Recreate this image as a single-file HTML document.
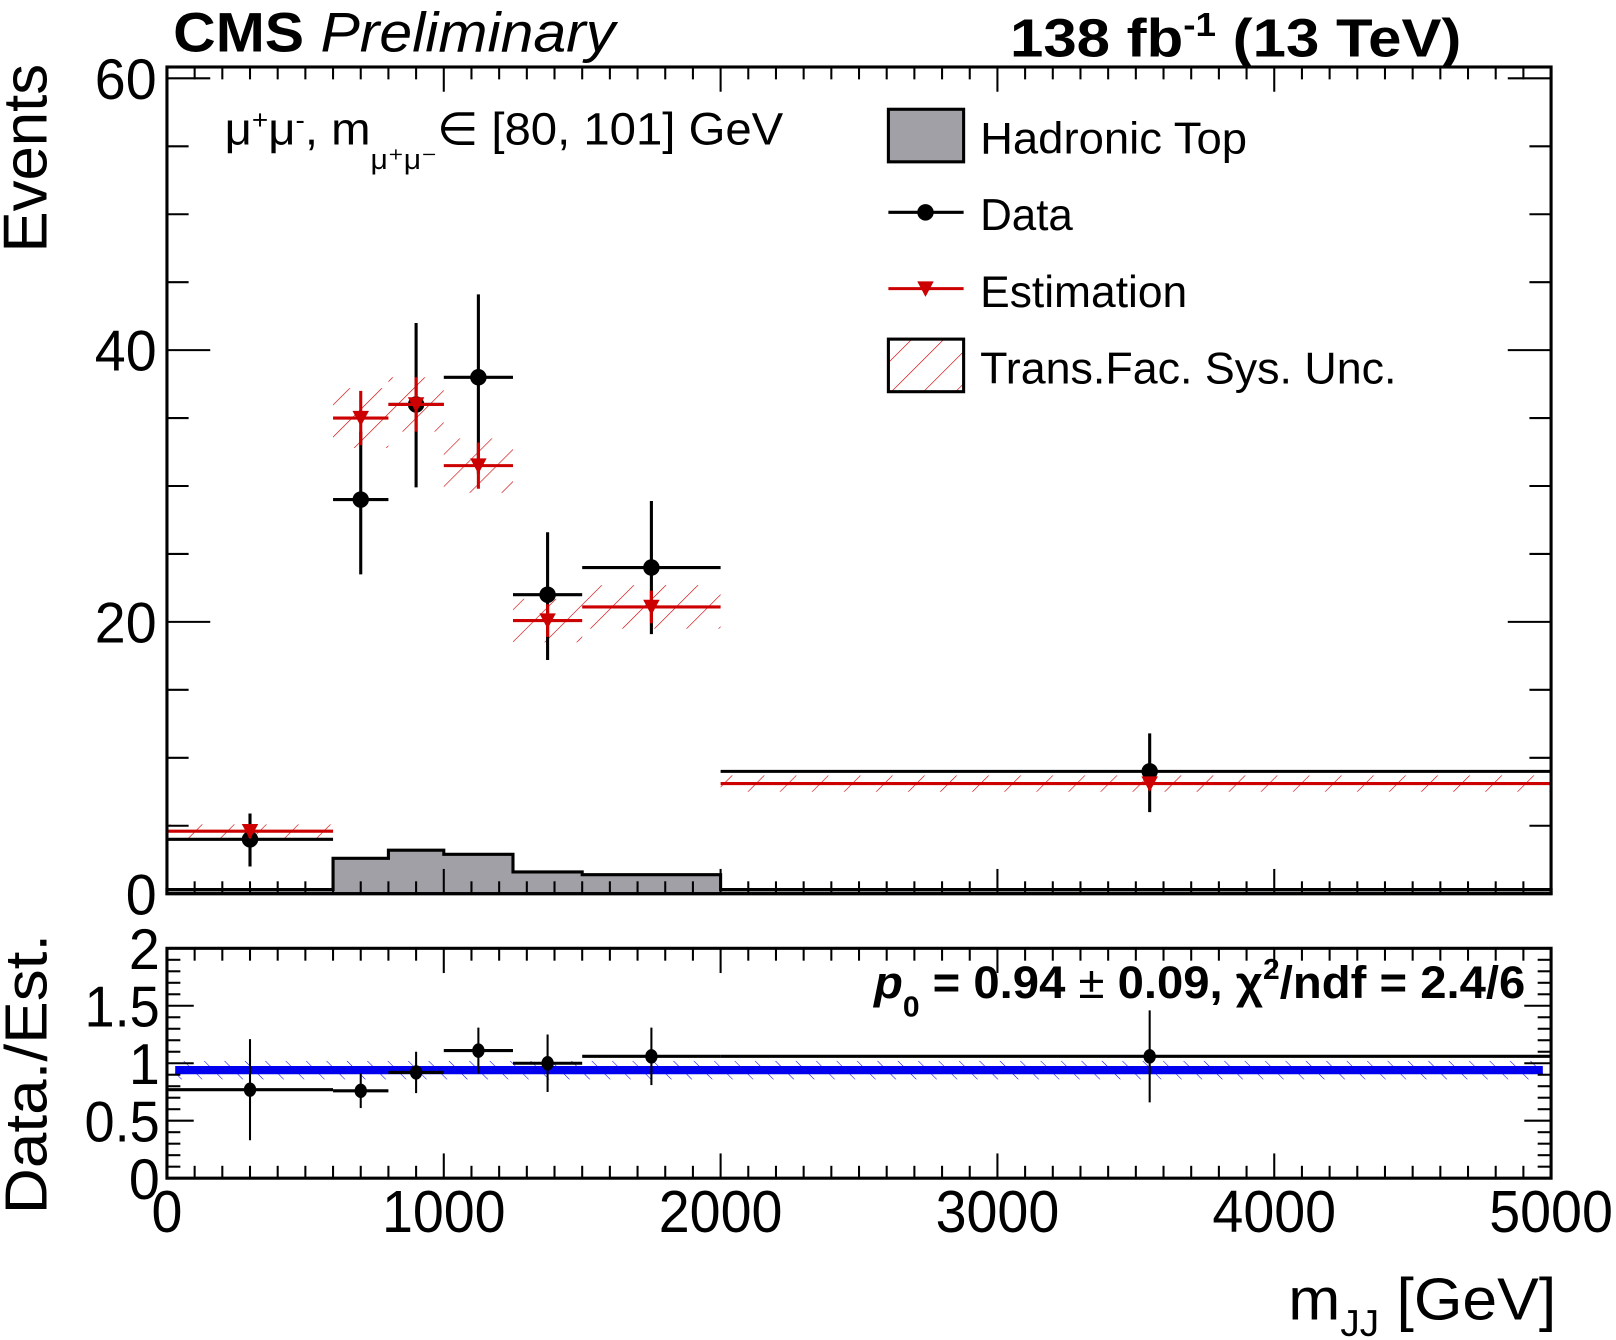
<!DOCTYPE html>
<html><head><meta charset="utf-8"><style>
html,body{margin:0;padding:0;background:#fff;}
svg{display:block;font-family:"Liberation Sans",sans-serif;}
</style></head><body>
<svg id="chart" width="1616" height="1340" viewBox="0 0 1568 1300" preserveAspectRatio="none" xmlns="http://www.w3.org/2000/svg">
<defs>
<pattern id="redHatch" patternUnits="userSpaceOnUse" width="22" height="22" patternTransform="rotate(45)">
<line x1="0" y1="0" x2="0" y2="22" stroke="#cc0000" stroke-width="1.2"/></pattern>
<pattern id="blueHatch" patternUnits="userSpaceOnUse" width="14" height="14" patternTransform="rotate(-45)">
<line x1="0" y1="0" x2="0" y2="14" stroke="#0000ee" stroke-width="1"/></pattern>
</defs>
<g id="marks"></g>
<g id="axes"></g>
<text x="168" y="50" font-size="54" font-weight="bold" textLength="429" lengthAdjust="spacingAndGlyphs">CMS <tspan font-weight="normal" font-style="italic">Preliminary</tspan></text>
<text x="980" y="55" font-size="52" font-weight="bold" textLength="438" lengthAdjust="spacingAndGlyphs">138 fb<tspan dy="-20" font-size="32">-1</tspan><tspan dy="20"> (13 TeV)</tspan></text>
<text transform="translate(45,245) rotate(-90)" font-size="60" textLength="183" lengthAdjust="spacingAndGlyphs">Events</text>
<text transform="translate(45,1178) rotate(-90)" font-size="58" textLength="272" lengthAdjust="spacingAndGlyphs">Data./Est.</text>
<text x="1250" y="1280" font-size="58" textLength="260" lengthAdjust="spacingAndGlyphs">m<tspan dy="16" font-size="36">JJ</tspan><tspan dy="-16"> [GeV]</tspan></text>
<text x="218" y="140" font-size="44" textLength="542" lengthAdjust="spacingAndGlyphs">μ<tspan dy="-15" font-size="26">+</tspan><tspan dy="15">μ</tspan><tspan dy="-15" font-size="26">-</tspan><tspan dy="15">, m</tspan><tspan dy="24" font-size="28">μ⁺μ⁻</tspan><tspan dy="-24">∈ [80, 101] GeV</tspan></text>
<text x="848" y="968" font-size="44" font-weight="bold" textLength="632" lengthAdjust="spacingAndGlyphs"><tspan font-style="italic">p</tspan><tspan dy="18" font-size="28">0</tspan><tspan dy="-18"> = 0.94 </tspan><tspan font-weight="normal">±</tspan> 0.09,  χ<tspan dy="-18" font-size="28">2</tspan><tspan dy="18">/ndf = 2.4/6</tspan></text>
<g>
<rect x="862" y="106" width="73" height="51" fill="#a0a0a6" stroke="#000" stroke-width="3"/>
<text x="951" y="149" font-size="43" textLength="259" lengthAdjust="spacingAndGlyphs">Hadronic Top</text>
<line x1="862" y1="206" x2="935" y2="206" stroke="#000" stroke-width="3"/>
<circle cx="898" cy="206" r="8" fill="#000"/>
<text x="951" y="223" font-size="43" textLength="90" lengthAdjust="spacingAndGlyphs">Data</text>
<line x1="862" y1="280" x2="935" y2="280" stroke="#cc0000" stroke-width="3"/>
<path d="M890 273 L906 273 L898 288 Z" fill="#cc0000"/>
<text x="951" y="298" font-size="43" textLength="201" lengthAdjust="spacingAndGlyphs">Estimation</text>
<rect x="862" y="329" width="73" height="51" fill="url(#redHatch)" stroke="#000" stroke-width="3"/>
<text x="951" y="372" font-size="43" textLength="404" lengthAdjust="spacingAndGlyphs">Trans.Fac. Sys. Unc.</text>
</g>
</svg>
<script>
const binEdges=[0,600,800,1000,1250,1500,2000,5000];
const dataX=[300,700,900,1125,1375,1750,3550];
const dataY=[4,29,36,38,22,24,9];
const dataErrUp=[1.9,5.0,6.0,6.1,4.6,4.9,2.8];
const dataErrDn=[2.0,5.5,6.1,7.1,4.8,4.9,3.0];
const estY=[4.6,35,36,31.5,20.1,21.1,8.1];
const estErr=[0.5,2.0,2.0,1.7,1.2,1.2,0.5];
const estSyst=[0.5,2.2,2.0,2.0,1.6,1.6,0.6];
const topY=[0.3,2.6,3.2,2.9,1.6,1.4,0.3];
const ratioY=[0.77,0.76,0.92,1.11,1.0,1.06,1.06];
const ratioErr=[0.44,0.15,0.18,0.2,0.25,0.25,0.4];
const fitP0=0.94, fitErr=0.08;
const yTicks=[0,20,40,60];
const rTicks=[0,0.5,1,1.5,2];
const xTicks=[0,1000,2000,3000,4000,5000];

const NS="http://www.w3.org/2000/svg";
const X0=162,X1=1505;
const T0=65,B0=867;
const T1=920,B1=1143;
const xs=v=>X0+(v-0)/5000*(X1-X0);
const ys=v=>B0-v/60*(B0-76);
const rs=v=>B1-v/2*(B1-T1);
const marks=document.getElementById('marks');
const axes=document.getElementById('axes');
function mk(tag,attrs,parent){const e=document.createElementNS(NS,tag);for(const k in attrs)e.setAttribute(k,attrs[k]);(parent||marks).appendChild(e);return e;}
function tw(s){let w=0;for(const c of String(s))w+=(c==='.')?13:30;return w;}

let d=`M${xs(0)} ${ys(0)}`;
for(let i=0;i<topY.length;i++){d+=` L${xs(binEdges[i])} ${ys(topY[i])} L${xs(binEdges[i+1])} ${ys(topY[i])}`;}
d+=` L${xs(5000)} ${ys(0)} Z`;
const h=mk('path',{d:d,fill:'#a0a0a6',stroke:'#000','stroke-width':3});



for(let i=0;i<estY.length;i++){
  const xa=xs(binEdges[i]),xb=xs(binEdges[i+1]);
  const r=mk('rect',{x:xa,y:ys(estY[i]+estSyst[i]),width:xb-xa,height:ys(estY[i]-estSyst[i])-ys(estY[i]+estSyst[i]),fill:'url(#redHatch)'});
  
  
}
for(let i=0;i<dataY.length;i++){
  const xa=xs(binEdges[i]),xb=xs(binEdges[i+1]),xc=xs(dataX[i]);
  const g=mk('g',{});
  
  
  mk('line',{x1:xa,x2:xb,y1:ys(dataY[i]),y2:ys(dataY[i]),stroke:'#000','stroke-width':3},g);
  mk('line',{x1:xc,x2:xc,y1:ys(dataY[i]+dataErrUp[i]),y2:ys(dataY[i]-dataErrDn[i]),stroke:'#000','stroke-width':3},g);
  mk('circle',{cx:xc,cy:ys(dataY[i]),r:8,fill:'#000'},g);
}
for(let i=0;i<estY.length;i++){
  const xa=xs(binEdges[i]),xb=xs(binEdges[i+1]),xc=xs(dataX[i]),y=ys(estY[i]);
  const g=mk('g',{});
  
  
  mk('line',{x1:xa,x2:xb,y1:y,y2:y,stroke:'#cc0000','stroke-width':3},g);
  mk('line',{x1:xc,x2:xc,y1:ys(estY[i]+estErr[i]),y2:ys(estY[i]-estErr[i]),stroke:'#cc0000','stroke-width':3},g);
  mk('path',{d:`M${xc-8} ${y-7} L${xc+8} ${y-7} L${xc} ${y+8} Z`,fill:'#cc0000'},g);
}
const band=mk('rect',{x:X0+8,y:rs(fitP0+fitErr),width:X1-X0-16,height:rs(fitP0-fitErr)-rs(fitP0+fitErr),fill:'url(#blueHatch)'});


const fl=mk('line',{x1:X0+8,x2:X1-8,y1:rs(fitP0),y2:rs(fitP0),stroke:'#0000ee','stroke-width':8});


for(let i=0;i<ratioY.length;i++){
  const xa=xs(binEdges[i]),xb=xs(binEdges[i+1]),xc=xs(dataX[i]),y=rs(ratioY[i]);
  const g=mk('g',{});
  
  
  mk('line',{x1:xa,x2:xb,y1:y,y2:y,stroke:'#000','stroke-width':3},g);
  mk('line',{x1:xc,x2:xc,y1:rs(ratioY[i]+ratioErr[i]),y2:rs(ratioY[i]-ratioErr[i]),stroke:'#000','stroke-width':2},g);
  mk('ellipse',{cx:xc,cy:y,rx:6,ry:7,fill:'#000'},g);
}

function frame(t,b,name){
  const r=mk('rect',{x:X0,y:t,width:X1-X0,height:b-t,fill:'none',stroke:'#000','stroke-width':3},axes);
  
  
  for(let v=0;v<=5000;v+=100){
    const x=xs(v),L=(v%1000===0)?24:12;
    mk('line',{x1:x,x2:x,y1:b,y2:b-L,stroke:'#000','stroke-width':2},axes);
    mk('line',{x1:x,x2:x,y1:t,y2:t+L,stroke:'#000','stroke-width':2},axes);
  }
}
frame(T0,B0,'main-frame');
frame(T1,B1,'ratio-frame');
for(let v=0;v<=60;v+=5){
  const y=ys(v),L=(v%20===0)?42:21;
  mk('line',{x1:X0,x2:X0+L,y1:y,y2:y,stroke:'#000','stroke-width':2},axes);
  mk('line',{x1:X1,x2:X1-L,y1:y,y2:y,stroke:'#000','stroke-width':2},axes);
}
for(let k=0;k<=20;k++){
  const v=k/10,y=rs(v),L=(k%5===0)?26:13;
  mk('line',{x1:X0,x2:X0+L,y1:y,y2:y,stroke:'#000','stroke-width':2},axes);
  mk('line',{x1:X1,x2:X1-L,y1:y,y2:y,stroke:'#000','stroke-width':2},axes);
}
yTicks.forEach(v=>{
  const w=tw(v);
  const t=mk('text',{x:152-w,y:ys(v)+20,'font-size':56,textLength:w,lengthAdjust:'spacingAndGlyphs'},axes);
  t.textContent=v;
  
  
});
rTicks.forEach(v=>{
  const w=tw(v);
  const t=mk('text',{x:155-w,y:rs(v)+20,'font-size':56,textLength:w,lengthAdjust:'spacingAndGlyphs'},axes);
  t.textContent=v;
  
  
});
xTicks.forEach(v=>{
  const w=tw(v);
  const t=mk('text',{x:xs(v)-w/2,y:1195,'font-size':58,textLength:w,lengthAdjust:'spacingAndGlyphs'},axes);
  t.textContent=v;
  
  
});
</script>
</body></html>
